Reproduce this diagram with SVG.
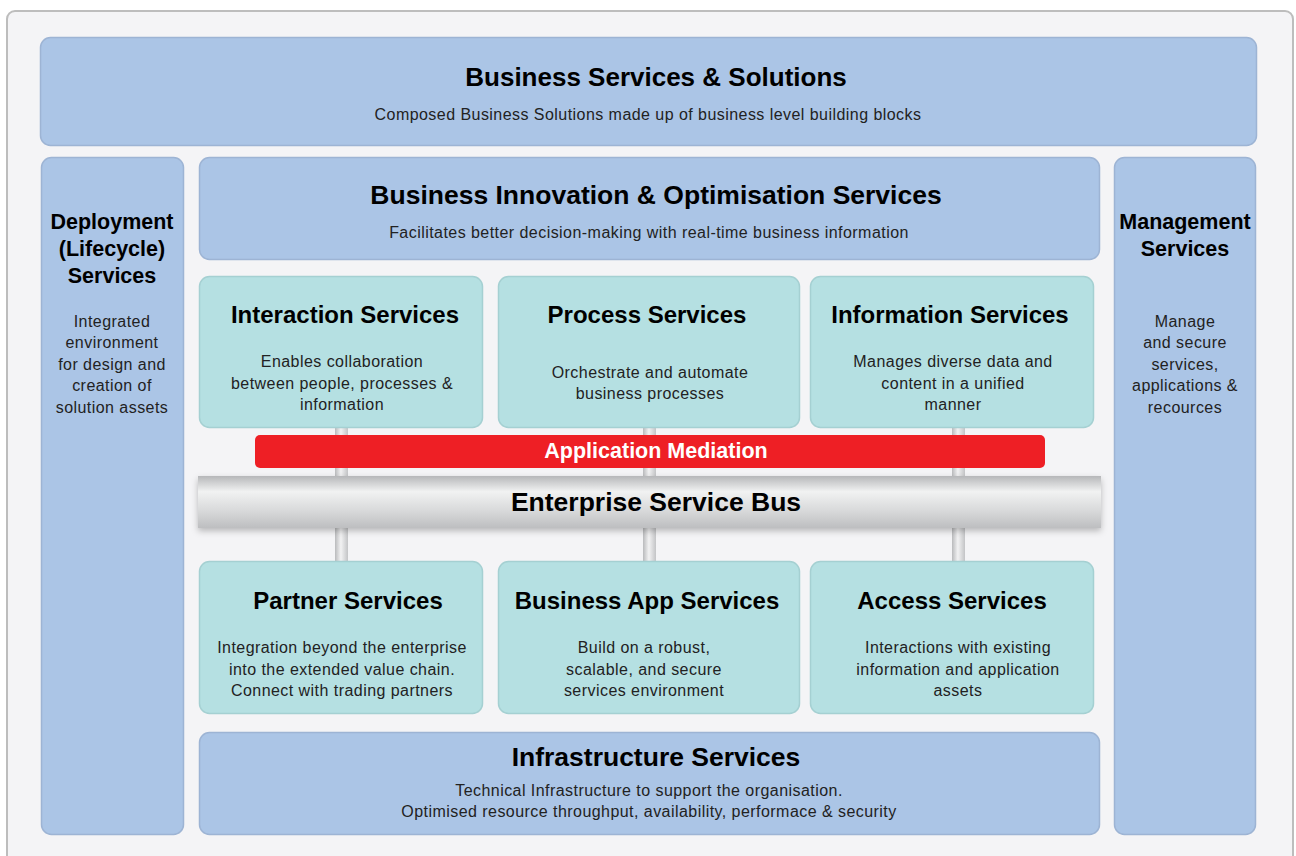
<svg xmlns="http://www.w3.org/2000/svg" width="1296" height="856" viewBox="0 0 1296 856">
<defs>
<linearGradient id="esbGrad" x1="0" y1="0" x2="0" y2="1">
<stop offset="0" stop-color="#b6b7b9"/>
<stop offset="0.3" stop-color="#f1f2f2"/>
<stop offset="0.7" stop-color="#d6d7d8"/>
<stop offset="1" stop-color="#bdbec0"/>
</linearGradient>
<linearGradient id="pipeGrad" x1="0" y1="0" x2="1" y2="0">
<stop offset="0" stop-color="#b9babc"/>
<stop offset="0.45" stop-color="#f2f2f3"/>
<stop offset="1" stop-color="#c3c4c6"/>
</linearGradient>
<filter id="shadow" x="-5%" y="-30%" width="110%" height="170%">
<feDropShadow dx="0" dy="3" stdDeviation="3" flood-color="#000" flood-opacity="0.25"/>
</filter>
</defs>
<style>
.blue{fill:#abc5e6;stroke:#9db4d4;stroke-width:1.5}
.teal{fill:#b5e0e2;stroke:#a5d0d2;stroke-width:1.5}
.t{font-family:"Liberation Sans",Arial,sans-serif;font-weight:bold;fill:#000;text-anchor:middle}
.d{font-family:"Liberation Sans",Arial,sans-serif;font-size:16px;letter-spacing:0.45px;fill:#222;text-anchor:middle}
.pipe{fill:url(#pipeGrad)}
</style>
<rect x="0" y="0" width="1296" height="856" fill="#ffffff"/>
<rect x="7" y="11" width="1286" height="860" rx="8" fill="#f4f4f6" stroke="#bdbdbd" stroke-width="2"/>

<g id="connectors">
<rect class="pipe" x="335" y="426" width="13" height="137"/>
<rect class="pipe" x="643" y="426" width="13" height="137"/>
<rect class="pipe" x="952" y="426" width="13" height="137"/>
</g>

<g id="business-services">
<rect class="blue" x="40.5" y="37.5" width="1216" height="108" rx="10"/>
<text class="t" x="656" y="86" font-size="26">Business Services &amp; Solutions</text>
<text class="d" x="648" y="120">Composed Business Solutions made up of business level building blocks</text>
</g>

<g id="deployment">
<rect class="blue" x="41.5" y="157.5" width="142" height="677" rx="10"/>
<text class="t" x="112" y="229" font-size="21.5">Deployment</text>
<text class="t" x="112" y="256" font-size="21.5">(Lifecycle)</text>
<text class="t" x="112" y="283" font-size="21.5">Services</text>
<text class="d" x="112" y="327">Integrated</text>
<text class="d" x="112" y="348">environment</text>
<text class="d" x="112" y="370">for design and</text>
<text class="d" x="112" y="391">creation of</text>
<text class="d" x="112" y="413">solution assets</text>
</g>

<g id="management">
<rect class="blue" x="1114.5" y="157.5" width="141" height="677" rx="10"/>
<text class="t" x="1185" y="229" font-size="21.5">Management</text>
<text class="t" x="1185" y="256" font-size="21.5">Services</text>
<text class="d" x="1185" y="327">Manage</text>
<text class="d" x="1185" y="348">and secure</text>
<text class="d" x="1185" y="370">services,</text>
<text class="d" x="1185" y="391">applications &amp;</text>
<text class="d" x="1185" y="413">recources</text>
</g>

<g id="business-innovation">
<rect class="blue" x="199.5" y="157.5" width="900" height="102" rx="10"/>
<text class="t" x="656" y="204" font-size="26.5">Business Innovation &amp; Optimisation Services</text>
<text class="d" x="649" y="238">Facilitates better decision-making with real-time business information</text>
</g>

<g id="interaction">
<rect class="teal" x="199.5" y="276.5" width="283" height="151" rx="10"/>
<text class="t" x="345" y="323" font-size="24">Interaction Services</text>
<text class="d" x="342" y="367">Enables collaboration</text>
<text class="d" x="342" y="389">between people, processes &amp;</text>
<text class="d" x="342" y="410">information</text>
</g>

<g id="process">
<rect class="teal" x="498.5" y="276.5" width="301" height="151" rx="10"/>
<text class="t" x="647" y="323" font-size="24">Process Services</text>
<text class="d" x="650" y="378">Orchestrate and automate</text>
<text class="d" x="650" y="399">business processes</text>
</g>

<g id="information">
<rect class="teal" x="810.5" y="276.5" width="283" height="151" rx="10"/>
<text class="t" x="950" y="323" font-size="24">Information Services</text>
<text class="d" x="953" y="367">Manages diverse data and</text>
<text class="d" x="953" y="389">content in a unified</text>
<text class="d" x="953" y="410">manner</text>
</g>

<g id="application-mediation">
<rect x="255" y="435" width="790" height="33" rx="5" fill="#ee1f25"/>
<text class="t" x="656" y="458" font-size="21.5" style="fill:#fff">Application Mediation</text>
</g>

<g id="esb">
<rect x="198" y="476" width="903" height="52" fill="url(#esbGrad)" filter="url(#shadow)"/>
<text class="t" x="656" y="511" font-size="26.5">Enterprise Service Bus</text>
</g>

<g id="partner">
<rect class="teal" x="199.5" y="561.5" width="283" height="152" rx="10"/>
<text class="t" x="348" y="609" font-size="24">Partner Services</text>
<text class="d" x="342" y="653">Integration beyond the enterprise</text>
<text class="d" x="342" y="675">into the extended value chain.</text>
<text class="d" x="342" y="696">Connect with trading partners</text>
</g>

<g id="business-app">
<rect class="teal" x="498.5" y="561.5" width="301" height="152" rx="10"/>
<text class="t" x="647" y="609" font-size="24">Business App Services</text>
<text class="d" x="644" y="653">Build on a robust,</text>
<text class="d" x="644" y="675">scalable, and secure</text>
<text class="d" x="644" y="696">services environment</text>
</g>

<g id="access">
<rect class="teal" x="810.5" y="561.5" width="283" height="152" rx="10"/>
<text class="t" x="952" y="609" font-size="24">Access Services</text>
<text class="d" x="958" y="653">Interactions with existing</text>
<text class="d" x="958" y="675">information and application</text>
<text class="d" x="958" y="696">assets</text>
</g>

<g id="infrastructure">
<rect class="blue" x="199.5" y="732.5" width="900" height="102" rx="10"/>
<text class="t" x="656" y="766" font-size="26.5">Infrastructure Services</text>
<text class="d" x="649" y="796">Technical Infrastructure to support the organisation.</text>
<text class="d" x="649" y="817">Optimised resource throughput, availability, performace &amp; security</text>
</g>
</svg>
